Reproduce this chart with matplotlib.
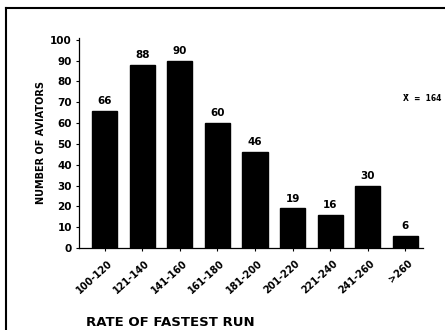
import matplotlib
matplotlib.use("Agg")
import matplotlib.pyplot as plt
import matplotlib.transforms as mtransforms
from matplotlib.lines import Line2D

# data
categories = ["100-120", "121-140", "141-160", "161-180", "181-200",
              "201-220", "221-240", "241-260", ">260"]
counts = [66, 88, 90, 60, 46, 19, 16, 30, 6]
y_ticks = [0, 10, 20, 30, 40, 50, 60, 70, 80, 90, 100]
mean_label = "X\u0304  =  164"

plt.rcParams["font.family"] = ["DejaVu Sans"]
plt.rcParams["font.weight"] = "bold"

fig = plt.figure(figsize=(4.45, 3.3), dpi=100)
ax = fig.add_axes([0.1775, 0.2485, 0.773, 0.637])

x = range(len(categories))
ax.bar(x, counts, width=0.67, color="black", edgecolor="black")

for xi, v in zip(x, counts):
    ax.text(xi, v + 2.3, str(v), ha="center", va="bottom",
            fontsize=7.5, fontweight="bold")

ax.set_xlim(-0.68, 8.47)
ax.set_ylim(0, 101)
ax.set_yticks(y_ticks)
ax.set_yticklabels([str(t) for t in y_ticks], fontsize=7.5, fontweight="bold")
ax.set_xticks(list(x))
ax.set_xticklabels(categories, rotation=42, ha="right", va="center",
                   rotation_mode="anchor", fontsize=7, fontweight="bold")
ax.tick_params(axis="y", length=2, width=0.8, pad=3)
ax.tick_params(axis="x", length=2, width=0.8, pad=8)

# nudge the slanted labels a little to the right, as in the scan
shift = mtransforms.ScaledTranslation(6 / 100, 0, fig.dpi_scale_trans)
for lab in ax.get_xticklabels():
    lab.set_transform(lab.get_transform() + shift)

for side in ["top", "right"]:
    ax.spines[side].set_visible(False)
ax.spines["left"].set_linewidth(0.9)
ax.spines["bottom"].set_linewidth(0.9)

ax.set_ylabel("NUMBER OF AVIATORS", fontsize=7, fontweight="bold", labelpad=3)
fig.text(0.193, 0.024, "RATE OF FASTEST RUN", fontsize=9.5, fontweight="bold",
         ha="left", va="center")
fig.text(0.948, 0.703, mean_label, fontsize=5.5, fontweight="bold",
         ha="center", va="center")

# frame of the scanned page
fig.add_artist(Line2D([0.013, 1.0], [0.975, 0.975], color="black", lw=1.5,
                      transform=fig.transFigure))
fig.add_artist(Line2D([0.013, 0.013], [0.0, 0.975], color="black", lw=1.5,
                      transform=fig.transFigure))

fig.savefig("out.png", dpi=100)
